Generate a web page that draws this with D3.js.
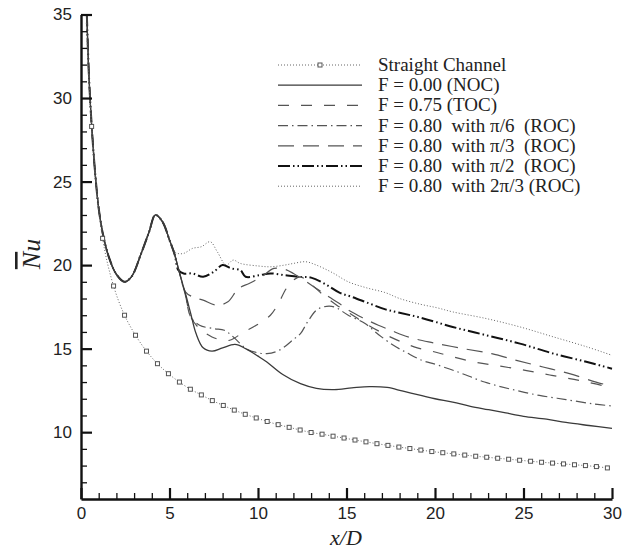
<!DOCTYPE html>
<html>
<head>
<meta charset="utf-8">
<script src="https://cdn.jsdelivr.net/npm/d3@7"></script>
<style>
  html, body { margin: 0; padding: 0; background: #fff; }
  svg { display: block; }
</style>
</head>
<body>
<svg id="chart" width="635" height="549"></svg>
<script>
// ---------------- data ----------------
const xTicksMajor = [0, 5, 10, 15, 20, 25, 30];
const yTicksMajor = [10, 15, 20, 25, 30, 35];

// part of the curve shared by all six duct cases
const sharedStart = [[0.33,35.0],[0.45,31.3],[0.6,28.4],[0.8,25.5],[1.0,23.4],[1.25,21.8],[1.6,20.4],
  [2.0,19.45],[2.45,19.0],[2.85,19.3],[3.4,20.7],[3.85,22.0],[4.2,23.0],[4.6,22.6],[5.0,21.5]];

const straightChannel = [[0.3,34.5],[0.6,28.3],[1.22,21.6],[1.84,18.75],[2.46,17.0],[3.08,15.8],[3.7,14.85],
  [4.32,14.1],[4.94,13.5],[5.56,13.0],[6.18,12.57],[6.8,12.23],[7.42,11.89],[8.04,11.6],[8.66,11.32],
  [9.28,11.07],[9.9,10.85],[10.52,10.64],[11.14,10.45],[11.76,10.29],[12.38,10.13],[13.0,9.98],
  [13.62,9.88],[14.24,9.76],[14.86,9.65],[15.48,9.53],[16.1,9.42],[16.72,9.31],[17.34,9.21],
  [17.96,9.11],[18.58,9.02],[19.2,8.93],[19.82,8.84],[20.44,8.77],[21.06,8.7],[21.68,8.63],
  [22.3,8.56],[22.92,8.5],[23.54,8.44],[24.16,8.38],[24.78,8.32],[25.4,8.26],[26.02,8.2],
  [26.64,8.15],[27.26,8.1],[27.88,8.05],[28.5,8.0],[29.12,7.94],[29.74,7.86]];

const noc = [[5.3,20.6],[5.6,19.4],[5.9,18.3],[6.2,17.1],[6.5,15.9],[6.9,15.05],[7.4,14.85],[8.0,15.05],
  [8.7,15.25],[9.3,15.0],[10.0,14.55],[10.5,14.2],[11.4,13.45],[12.4,12.9],[13.3,12.62],[14.3,12.55],
  [15.3,12.65],[16.3,12.73],[17.3,12.68],[18.2,12.45],[19.2,12.2],[20,12.0],[21,11.8],[22,11.55],
  [23,11.35],[24,11.15],[25,10.95],[26.3,10.78],[27.4,10.58],[28.7,10.4],[30,10.23]];

const toc = [[5.3,20.6],[5.6,19.4],[5.9,18.2],[6.2,16.9],[6.6,16.3],[7.0,15.95],[7.4,15.7],[7.8,15.55],
  [8.4,15.5],[9.2,16.0],[9.9,16.4],[10.7,17.0],[11.15,17.7],[11.6,18.6],[12.0,19.1],[12.4,19.3],
  [13.0,18.85],[13.7,18.2],[14.45,17.6],[15.2,17.1],[16.0,16.55],[17.0,15.95],[18.0,15.45],
  [19.0,15.05],[20.0,14.8],[20.7,14.6],[22.2,14.2],[23.7,13.95],[25.1,13.7],[26.6,13.4],
  [28.15,13.1],[29.6,12.75],[30,12.6]];

const rocPi6 = [[5.3,20.6],[5.6,19.4],[5.9,18.2],[6.2,16.9],[6.7,16.4],[7.5,16.2],[8.1,16.1],[8.5,15.8],
  [9.0,15.3],[9.4,14.95],[10.0,14.75],[10.5,14.7],[11.2,14.9],[12.0,15.55],[12.4,15.9],[12.8,16.6],
  [13.3,17.3],[13.7,17.5],[14.3,17.5],[15.1,17.0],[16.05,16.5],[16.8,15.85],[17.65,15.2],[18.4,14.76],
  [19.25,14.3],[19.85,14.12],[21.3,13.6],[22.8,13.0],[24.3,12.57],[25.9,12.2],[27.4,11.95],
  [28.9,11.7],[30,11.57]];

const rocPi3 = [[5.3,20.6],[5.55,19.6],[5.9,18.4],[6.3,18.1],[6.9,17.9],[7.7,17.6],[8.3,17.8],[8.9,18.6],
  [9.5,18.9],[10.2,19.3],[10.9,19.8],[11.5,19.75],[12.0,19.5],[12.6,19.1],[13.3,18.6],[14.0,18.1],
  [14.6,17.7],[15.2,17.25],[16.0,16.8],[16.8,16.4],[17.5,16.1],[18.2,15.8],[19.0,15.55],[19.9,15.35],
  [21.6,15.0],[23.2,14.7],[24.6,14.3],[26.1,13.9],[27.6,13.5],[29.1,13.0],[30,12.75]];

const rocPi2 = [[5.3,20.6],[5.5,19.7],[5.8,19.5],[6.3,19.5],[6.9,19.3],[7.5,19.6],[8.0,20.0],[8.5,19.8],
  [9.0,19.7],[9.3,19.3],[10.1,19.4],[10.7,19.5],[11.5,19.4],[12.3,19.3],[13.0,19.25],[13.9,18.8],
  [14.6,18.35],[15.3,18.1],[16.3,17.7],[17.2,17.35],[18.0,17.15],[19.2,16.85],[21,16.3],[22.9,15.8],
  [24.8,15.3],[26.7,14.7],[28.6,14.2],[30,13.8]];

const roc2Pi3 = [[5.3,20.8],[5.45,20.7],[5.8,20.7],[6.3,21.0],[6.8,21.1],[7.3,21.4],[7.7,20.8],[8.2,20.0],
  [8.6,20.3],[9.0,20.1],[10.0,19.95],[10.7,19.9],[11.5,20.0],[12.0,20.1],[12.7,20.2],[13.3,20.0],
  [14.2,19.55],[15.1,19.0],[16.1,18.65],[17.2,18.35],[18.0,18.0],[19.2,17.65],[20.1,17.45],[21,17.2],
  [22.9,16.8],[24.8,16.3],[26.7,15.7],[28.6,15.1],[30,14.6]];

const legendLabels = [
  "Straight Channel",
  "F = 0.00 (NOC)",
  "F = 0.75 (TOC)",
  "F = 0.80\u00A0 with \u03C0/6\u00A0 (ROC)",
  "F = 0.80\u00A0 with \u03C0/3\u00A0 (ROC)",
  "F = 0.80\u00A0 with \u03C0/2\u00A0 (ROC)",
  "F = 0.80\u00A0 with 2\u03C0/3 (ROC)"
];

// ---------------- styles ----------------
const styles = [
  { dash: "1,2",  width: 1.0, color: "#666", markers: true },
  { dash: null,   width: 1.3, color: "#3a3a3a" },
  { dash: "11,12", width: 1.2, color: "#555" },
  { dash: "10,4,1.5,4", width: 1.2, color: "#555" },
  { dash: "16,9", width: 1.2, color: "#555" },
  { dash: "12,3,1.5,3,1.5,3", width: 2.0, color: "#111" },
  { dash: "1,2",  width: 1.0, color: "#666" }
];

const seriesData = [
  straightChannel,
  sharedStart.concat(noc),
  sharedStart.concat(toc),
  sharedStart.concat(rocPi6),
  sharedStart.concat(rocPi3),
  sharedStart.concat(rocPi2),
  sharedStart.concat(roc2Pi3)
];

// ---------------- drawing ----------------
const svg = d3.select("#chart");
const x = d3.scaleLinear().domain([0, 30]).range([81, 612]);
const y = d3.scaleLinear().domain([6, 35]).range([499, 14.5]);

const line = d3.line().x(d => x(d[0])).y(d => y(d[1])).curve(d3.curveCatmullRom.alpha(0.5));

// draw series (back to front)
const drawOrder = [6, 5, 4, 3, 2, 1, 0];
drawOrder.forEach(i => {
  const st = styles[i];
  svg.append("path")
    .datum(seriesData[i])
    .attr("d", line)
    .attr("fill", "none")
    .attr("stroke", st.color)
    .attr("stroke-width", st.width)
    .attr("stroke-dasharray", st.dash)
    .attr("stroke-linejoin", "round");
  if (st.markers) {
    svg.append("g").selectAll("rect")
      .data(seriesData[i].slice(1))
      .join("rect")
      .attr("x", d => x(d[0]) - 2)
      .attr("y", d => y(d[1]) - 2)
      .attr("width", 4).attr("height", 4)
      .attr("fill", "#fff")
      .attr("stroke", "#555")
      .attr("stroke-width", 1);
  }
});

// axes
const axisFont = "'Liberation Sans', Arial, sans-serif";
const xMinor = d3.range(0, 31, 1).filter(v => v % 5 !== 0);
const yMinor = d3.range(7, 35, 1).filter(v => v % 5 !== 0);

const gx = svg.append("g").attr("transform", `translate(0,${y(6)})`);
gx.call(d3.axisBottom(x).tickValues(xMinor).tickSize(-6).tickFormat(""));
gx.selectAll(".tick line").attr("stroke-width", 1.3).attr("stroke", "#111");
gx.select(".domain").remove();
const gxM = svg.append("g").attr("transform", `translate(0,${y(6)})`);
gxM.call(d3.axisBottom(x).tickValues(xTicksMajor).tickSizeInner(-11).tickSizeOuter(0).tickPadding(8).tickFormat(d3.format("d")));
gxM.selectAll(".tick line").attr("stroke-width", 2.2).attr("stroke", "#111");
gxM.select(".domain").attr("stroke-width", 2.4).attr("stroke", "#111");
gxM.selectAll("text").attr("font-family", axisFont).attr("font-size", 17).attr("fill", "#222");

const gy = svg.append("g").attr("transform", `translate(${x(0)},0)`);
gy.call(d3.axisLeft(y).tickValues(yMinor).tickSize(-6).tickFormat(""));
gy.selectAll(".tick line").attr("stroke-width", 1.3).attr("stroke", "#111");
gy.select(".domain").remove();
const gyM = svg.append("g").attr("transform", `translate(${x(0)},0)`);
gyM.call(d3.axisLeft(y).tickValues(yTicksMajor).tickSizeInner(-11).tickSizeOuter(0).tickPadding(9).tickFormat(d3.format("d")));
gyM.selectAll(".tick line").attr("stroke-width", 2.2).attr("stroke", "#111");
gyM.select(".domain").attr("stroke-width", 2.4).attr("stroke", "#111");
gyM.selectAll("text").attr("font-family", axisFont).attr("font-size", 17).attr("fill", "#222");

// axis titles
const serif = "'Liberation Serif', 'Times New Roman', serif";
svg.append("text")
  .attr("x", 346).attr("y", 545)
  .attr("text-anchor", "middle")
  .attr("font-family", serif).attr("font-style", "italic").attr("font-size", 22)
  .attr("fill", "#222")
  .text("x/D");

const yt = svg.append("text")
  .attr("transform", "translate(40,254) rotate(-90)")
  .attr("text-anchor", "middle")
  .attr("font-family", serif).attr("font-style", "italic").attr("font-size", 26)
  .attr("fill", "#222");
yt.append("tspan").style("text-decoration", "overline").text("N");
yt.append("tspan").text("u");

// legend
const legX0 = 278, legX1 = 362, legTextX = 378, legY0 = 65, legDy = 20.2;
const leg = svg.append("g");
legendLabels.forEach((lab, i) => {
  const st = styles[i];
  const yy = legY0 + i * legDy;
  leg.append("line")
    .attr("x1", legX0).attr("x2", legX1).attr("y1", yy).attr("y2", yy)
    .attr("stroke", st.color).attr("stroke-width", st.width)
    .attr("stroke-dasharray", st.dash);
  if (st.markers) {
    leg.append("rect")
      .attr("x", (legX0 + legX1) / 2 - 2).attr("y", yy - 2)
      .attr("width", 4).attr("height", 4)
      .attr("fill", "#fff").attr("stroke", "#555").attr("stroke-width", 1);
  }
  leg.append("text")
    .attr("x", legTextX).attr("y", yy + 6)
    .attr("font-family", serif).attr("font-size", 19)
    .attr("fill", "#222")
    .style("white-space", "pre")
    .text(lab);
});
</script>
</body>
</html>
